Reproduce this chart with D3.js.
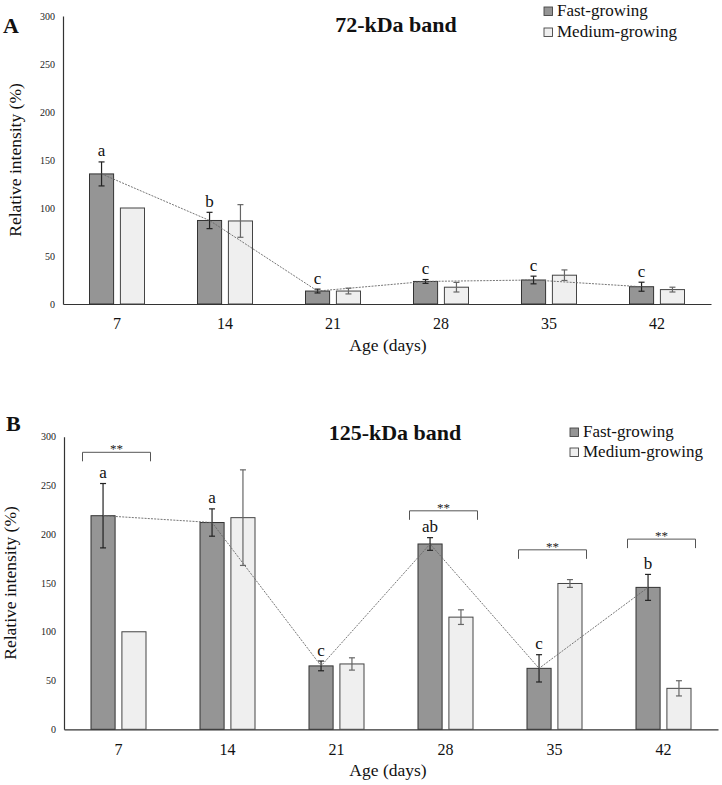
<!DOCTYPE html>
<html>
<head>
<meta charset="utf-8">
<script src="https://cdn.jsdelivr.net/npm/d3@7"></script>
<style>
  html, body { margin: 0; padding: 0; background: #fff; }
  svg { display: block; font-family: "Liberation Serif", "Times New Roman", serif; }
</style>
</head>
<body>
<svg id="chart" width="722" height="785"></svg>
<script>
// ---- data ----
const ages = ["7", "14", "21", "28", "35", "42"];
const seriesNames = ["Fast-growing", "Medium-growing"];
const yTicks = [0, 50, 100, 150, 200, 250, 300];

// Panel A: 72-kDa band
const fastA = [135.5, 87, 13.5, 23.5, 25, 18];
const fastErrA = [12.5, 8.5, 2, 2, 4, 4.7];
const mediumA = [100, 86.5, 13.5, 17.5, 30, 15];
const mediumErrA = [0, 17, 3, 5, 5.5, 2.5];
const lettersA = ["a", "b", "c", "c", "c", "c"];

// Panel B: 125-kDa band
const fastB = [219, 212, 65, 190, 62.5, 145.5];
const fastErrB = [33, 14, 5, 6.5, 14, 13.3];
const mediumB = [100, 217, 67, 115, 149.5, 42];
const mediumErrB = [0, 49, 6.3, 7.5, 4, 7.8];
const lettersB = ["a", "a", "c", "ab", "c", "b"];
const sigAgesB = ["7", "28", "35", "42"];
const sigLevelsB = [284, 224, 184, 195];

// ---- drawing ----
const svg = d3.select("#chart");
const FAST_FILL = "#959595", MED_FILL = "#efefef";

function drawPanel(p) {
  const g = svg.append("g");
  const x0 = d3.scaleBand().domain(ages).range([p.left, p.right]).padding(0);
  const c = x0.bandwidth() / 2;
  const x1 = d3.scaleBand().domain(seriesNames).range([c - 27.5, c + 27.5]).paddingInner(0.22);
  const y = d3.scaleLinear().domain([0, 300]).range([p.bottom, p.top]);

  // y axis
  const yAxis = d3.axisLeft(y).tickValues(yTicks).tickSize(0).tickPadding(8);
  const ya = g.append("g").attr("transform", `translate(${p.left},0)`).call(yAxis);
  ya.select(".domain").attr("stroke", "#333").attr("stroke-width", 1.2);
  ya.selectAll("text").attr("font-size", 10).attr("fill", "#222")
    .attr("font-family", "Liberation Serif, serif");

  // x axis
  const xAxis = d3.axisBottom(x0).tickSize(0).tickPadding(14);
  const xa = g.append("g").attr("transform", `translate(0,${p.bottom})`).call(xAxis);
  xa.select(".domain").attr("stroke", "#333").attr("stroke-width", 1.2);
  xa.selectAll("text").attr("font-size", 16).attr("fill", "#111")
    .attr("font-family", "Liberation Serif, serif");

  const rows = ages.map((a, i) => ({
    age: a,
    vals: [
      { s: seriesNames[0], v: p.fast[i], e: p.fastErr[i], fill: FAST_FILL, stroke: "#333", err: "#222" },
      { s: seriesNames[1], v: p.medium[i], e: p.mediumErr[i], fill: MED_FILL, stroke: "#444", err: "#666" }
    ],
    letter: p.letters[i]
  }));

  const grp = g.selectAll(".grp").data(rows).enter().append("g")
    .attr("transform", d => `translate(${x0(d.age)},0)`);

  grp.selectAll("rect").data(d => d.vals).enter().append("rect")
    .attr("x", d => x1(d.s))
    .attr("width", x1.bandwidth())
    .attr("y", d => y(d.v))
    .attr("height", d => y(0) - y(d.v))
    .attr("fill", d => d.fill)
    .attr("stroke", d => d.stroke)
    .attr("stroke-width", 1);

  // error bars
  const eb = grp.selectAll(".eb").data(d => d.vals.filter(v => v.e > 0)).enter().append("g");
  eb.append("line")
    .attr("x1", d => x1(d.s) + x1.bandwidth() / 2).attr("x2", d => x1(d.s) + x1.bandwidth() / 2)
    .attr("y1", d => y(d.v + d.e)).attr("y2", d => y(d.v - d.e))
    .attr("stroke", d => d.err).attr("stroke-width", 1.2);
  [1, -1].forEach(sg => {
    eb.append("line")
      .attr("x1", d => x1(d.s) + x1.bandwidth() / 2 - 3).attr("x2", d => x1(d.s) + x1.bandwidth() / 2 + 3)
      .attr("y1", d => y(d.v + sg * d.e)).attr("y2", d => y(d.v + sg * d.e))
      .attr("stroke", d => d.err).attr("stroke-width", 1.2);
  });

  // trend line over fast bars
  const line = d3.line()
    .x((d, i) => x0(ages[i]) + x1(seriesNames[0]) + x1.bandwidth() / 2)
    .y(d => y(d));
  g.append("path").datum(p.fast).attr("d", line)
    .attr("fill", "none").attr("stroke", "#666").attr("stroke-width", 0.9)
    .attr("stroke-dasharray", "2,1.2");

  // letters
  grp.append("text")
    .attr("x", x1(seriesNames[0]) + x1.bandwidth() / 2)
    .attr("y", d => y(d.vals[0].v + d.vals[0].e) - 5.5)
    .attr("text-anchor", "middle").attr("font-size", 17).attr("fill", "#111")
    .text(d => d.letter);

  // significance brackets
  if (p.sigAges) {
    p.sigAges.forEach((a, k) => {
      const cx = x0(a) + c;
      const yy = y(p.sigLevels[k]);
      g.append("path")
        .attr("d", `M${cx - 36},${yy + 9}V${yy}H${cx + 32}V${yy + 9}`)
        .attr("fill", "none").attr("stroke", "#555").attr("stroke-width", 1);
      g.append("text").attr("x", cx - 2).attr("y", yy + 1)
        .attr("text-anchor", "middle").attr("font-size", 13).attr("fill", "#222")
        .text("**");
    });
  }

  // panel label
  g.append("text").attr("x", p.labelX).attr("y", p.labelY)
    .attr("font-size", 22).attr("font-weight", "bold").attr("fill", "#111").text(p.label);
  // title
  g.append("text").attr("x", p.titleX).attr("y", p.titleY).attr("text-anchor", "middle")
    .attr("font-size", 22).attr("font-weight", "bold").attr("fill", "#111").text(p.title);
  // y title
  g.append("text")
    .attr("transform", `translate(${p.yTitleX},${(p.top + p.bottom) / 2}) rotate(-90)`)
    .attr("text-anchor", "middle").attr("font-size", 17.5).attr("fill", "#111")
    .text("Relative intensity (%)");
  // x title
  g.append("text").attr("x", 388).attr("y", p.xTitleY).attr("text-anchor", "middle")
    .attr("font-size", 17.5).attr("fill", "#111").text("Age (days)");

  // legend
  const leg = g.selectAll(".leg").data(seriesNames).enter().append("g")
    .attr("transform", (d, i) => `translate(${p.legX},${p.legY + i * p.legGap})`);
  leg.append("rect").attr("x", 0).attr("y", -9).attr("width", 8.5).attr("height", 8.5)
    .attr("fill", (d, i) => i === 0 ? FAST_FILL : MED_FILL)
    .attr("stroke", "#444").attr("stroke-width", 0.9);
  leg.append("text").attr("x", 13).attr("y", 0).attr("font-size", 17).attr("fill", "#111")
    .text(d => d);
}

drawPanel({
  left: 63, right: 711, top: 16, bottom: 304,
  fast: fastA, fastErr: fastErrA, medium: mediumA, mediumErr: mediumErrA, letters: lettersA,
  label: "A", labelX: 3, labelY: 33,
  title: "72-kDa band", titleX: 396, titleY: 32,
  yTitleX: 21, xTitleY: 351,
  legX: 544, legY: 16, legGap: 21
});

drawPanel({
  left: 64, right: 718, top: 436.7, bottom: 729.3,
  fast: fastB, fastErr: fastErrB, medium: mediumB, mediumErr: mediumErrB, letters: lettersB,
  sigAges: sigAgesB, sigLevels: sigLevelsB,
  label: "B", labelX: 6, labelY: 431,
  title: "125-kDa band", titleX: 395, titleY: 440,
  yTitleX: 16, xTitleY: 776,
  legX: 570, legY: 437, legGap: 20
});
</script>
</body>
</html>
